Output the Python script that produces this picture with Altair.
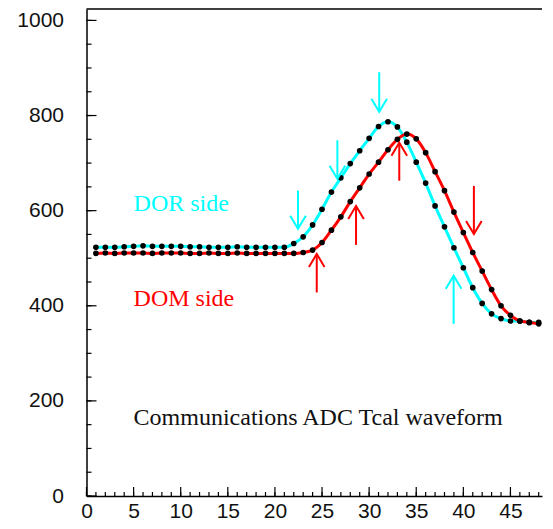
import altair as alt
import pandas as pd

# ---------------- data ----------------
sample = list(range(1, 49))
dor_adc = [523, 523, 523, 524, 525, 526, 525, 525, 525, 525, 524, 524, 523, 523, 523, 524, 523, 523, 523, 523, 523,
           531, 545, 570, 603, 639, 669, 699, 726, 752, 777, 787, 776, 744, 702, 658, 610, 566, 522, 480, 438,
           405, 383, 373, 368, 368, 365, 365]
dom_adc = [510, 511, 510, 511, 511, 511, 510, 511, 511, 511, 510, 510, 511, 510, 510, 511, 510, 510, 510, 510, 510, 510,
           512, 517, 533, 559, 587, 619, 648, 677, 702, 728, 750, 761, 751, 722, 682, 642, 597, 554, 512, 473,
           434, 400, 380, 368, 365, 362]

# arrows: x, tail value, tip value, colour group, direction
arrow_x = [22.45, 26.63, 31.07, 38.97, 24.44, 28.61, 33.2, 41.12]
arrow_tail = [642, 748, 891, 362, 428, 528, 663, 652]
arrow_tip = [562, 667, 808, 463, 509, 610, 743, 551]
arrow_side = ["DOR", "DOR", "DOR", "DOR", "DOM", "DOM", "DOM", "DOM"]
arrow_dir = ["down", "down", "down", "up", "up", "up", "up", "down"]

labels_text = ["DOR side", "DOM side", "Communications ADC Tcal waveform"]
labels_x = [5, 5, 5]
labels_y = [600, 400, 150]
labels_side = ["DOR", "DOM", "title"]

x_major = [0, 5, 10, 15, 20, 25, 30, 35, 40, 45]
x_minor = list(range(0, 49))
y_major = [0, 200, 400, 600, 800, 1000]
y_minor = list(range(0, 1001, 50))
x_max = 48.35
y_max = 1024

# ---------------- chart ----------------
CYAN, RED = "#00FFFF", "#FF0000"

xs = alt.Scale(domain=[0, x_max], nice=False, zero=False)
ys = alt.Scale(domain=[0, y_max], nice=False, zero=False)
xaxis = alt.Axis(values=x_major, format="d", tickSize=0, labelFontSize=21, labelFont="Liberation Sans",
                 labelColor="#111", labelPadding=4, labelFlush=False, domainColor="black",
                 domainWidth=1.5, grid=False, title=None)
yaxis = alt.Axis(values=y_major, format="d", tickSize=0, labelFontSize=21, labelFont="Liberation Sans",
                 labelColor="#111", labelPadding=23, labelFlush=False, domainColor="black",
                 domainWidth=1.5, grid=False, title=None)


def X(f):
    return alt.X(f, type="quantitative", scale=xs, axis=xaxis)


def Y(f):
    return alt.Y(f, type="quantitative", scale=ys, axis=yaxis)


wave = pd.DataFrame({"sample": sample, "dor": dor_adc, "dom": dom_adc})
arrows = pd.DataFrame({"x": arrow_x, "tail": arrow_tail, "tip": arrow_tip,
                       "side": arrow_side, "dir": arrow_dir})
labels = pd.DataFrame({"text": labels_text, "x": labels_x, "y": labels_y, "side": labels_side})

ymaj = alt.Chart(pd.DataFrame({"v": y_major})).mark_rule(color="black", strokeWidth=1.2).encode(
    y=Y("v"), x=alt.value(0), x2=alt.value(10))
ymin = alt.Chart(pd.DataFrame({"v": y_minor})).mark_rule(color="black", strokeWidth=1.2).encode(
    y=Y("v"), x=alt.value(0), x2=alt.value(5))
xmaj = alt.Chart(pd.DataFrame({"v": x_major})).mark_rule(color="black", strokeWidth=1.2, y2Offset=-9).encode(
    x=X("v"), y=alt.datum(0), y2=alt.datum(0))
xmin = alt.Chart(pd.DataFrame({"v": x_minor})).mark_rule(color="black", strokeWidth=1.2, y2Offset=-4).encode(
    x=X("v"), y=alt.datum(0), y2=alt.datum(0))
top = alt.Chart(pd.DataFrame({"v": [0]})).mark_rule(color="black", strokeWidth=1.5).encode(
    y=alt.datum(y_max), x=alt.datum(0), x2=alt.datum(x_max))

dor_line = alt.Chart(wave).mark_line(color=CYAN, strokeWidth=3, interpolate="monotone").encode(
    x=X("sample"), y=Y("dor"))
dom_line = alt.Chart(wave).mark_line(color=RED, strokeWidth=3, interpolate="monotone").encode(
    x=X("sample"), y=Y("dom"))
dor_pts = alt.Chart(wave).mark_circle(color="black", size=32, opacity=1).encode(
    x=X("sample"), y=Y("dor"))
dom_pts = alt.Chart(wave).mark_circle(color="black", size=32, opacity=1).encode(
    x=X("sample"), y=Y("dom"))

col = alt.Color("side:N", scale=alt.Scale(domain=["DOR", "DOM", "title"], range=[CYAN, RED, "#111"]),
                legend=None)

shafts = alt.Chart(arrows).mark_rule(strokeWidth=2).encode(
    x=X("x"), y=Y("tail"), y2="tip", color=col)
heads_up = alt.Chart(arrows).transform_filter(alt.datum.dir == "up").mark_point(
    shape="M-0.6,1L0,0L0.6,1", size=676, filled=False, strokeWidth=2, opacity=1).encode(
    x=X("x"), y=Y("tip"), color=col)
heads_down = alt.Chart(arrows).transform_filter(alt.datum.dir == "down").mark_point(
    shape="M-0.6,-1L0,0L0.6,-1", size=676, filled=False, strokeWidth=2, opacity=1).encode(
    x=X("x"), y=Y("tip"), color=col)

texts = alt.Chart(labels).mark_text(align="left", baseline="alphabetic", font="Liberation Serif",
                                    fontSize=24).encode(x=X("x"), y=Y("y"), text="text", color=col)

chart = alt.layer(ymin, ymaj, xmin, xmaj, top, dor_line, dom_line, dor_pts, dom_pts,
                  shafts, heads_up, heads_down, texts).properties(
    width=537, height=513, padding={"left": 8.5, "top": 0, "right": 0, "bottom": 0},
    autosize=alt.AutoSizeParams(type="fit", contains="padding"),
    background="white").configure_view(stroke="transparent")

chart.save("out.html", embed_options={"renderer": "svg", "actions": False})
